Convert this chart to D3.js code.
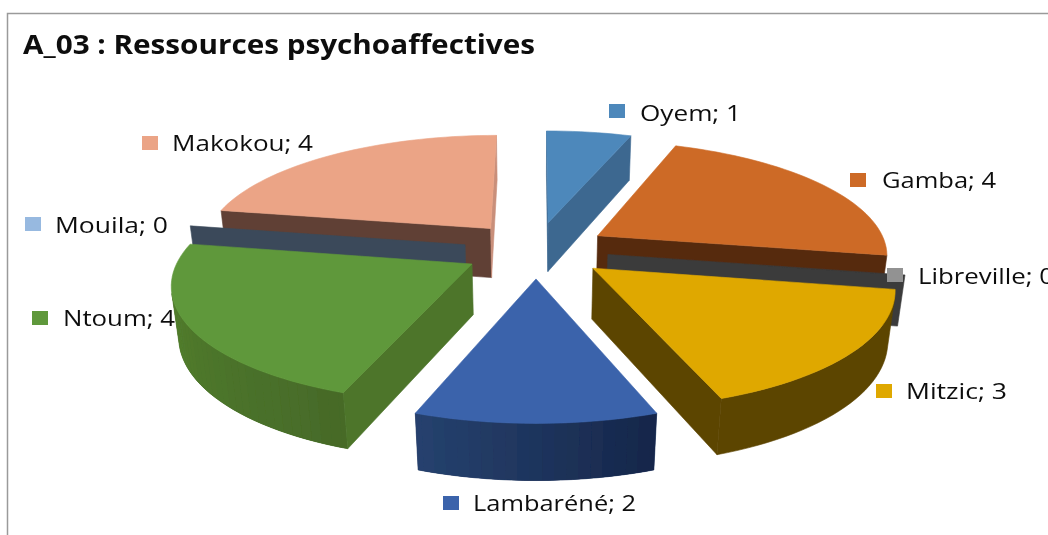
<!DOCTYPE html>
<html><head><meta charset="utf-8">
<script src="https://cdnjs.cloudflare.com/ajax/libs/d3/7.8.5/d3.min.js"></script>
<style>html,body{margin:0;padding:0;background:#fff;overflow:hidden}svg{display:block}</style>
</head><body><svg id="c" width="1048" height="535"></svg>
<script>
const titleText = "A_03 : Ressources psychoaffectives";
const categories = ["Oyem","Gamba","Libreville","Mitzic","Lambaréné","Ntoum","Mouila","Makokou"];
const values = [1,4,0,3,2,4,0,4];
const topColors = ["#4e88bb","#cd6b28","#929292","#dfa800","#3a63ab","#5f983b","#97b9e0","#eba486"];
const startWallColors = ["#3d6890","#562b10","#3a3a3a","#5c4400","#25406f","#4e752c","#3b4a5a","#604035"];
const endWallColors = ["#3d6890","#562b10","#3a3a3a","#5c4400","#1c3158","#4e752c","#3b4a5a","#c98f7a"];
const arcFrom = ["#3d6890","#562b10","#3a3a3a","#5c4400","#16264a","#466a28","#3b4a5a","#604035"];
const arcTo = ["#3d6890","#562b10","#3a3a3a","#5c4400","#26426f","#578630","#3b4a5a","#604035"];
// legend layout: swatch x, swatch y, text x, baseline, text width
const legendSwatchX = [609,850,887,876,443,32,25,142];
const legendSwatchY = [104,173,268,384,496,311,217,136];
const legendTextX = [640,882,918,906,473,63,55,172];
const legendBaseline = [121,188,284,399,511,326,233,151];
const legendTextW = [101,114,136,101,163,112,113,141];

const cx=536, cy=249.6, f=290, a=113, p=0.15, q=0.02, depth=51, explode=0.25;
const svg=d3.select("#c");
const defs=svg.append("defs");
defs.append("filter").attr("id","soft").attr("x","-5%").attr("y","-5%").attr("width","110%").attr("height","110%")
  .append("feGaussianBlur").attr("stdDeviation",0.55);

// frame
svg.append("path").attr("d","M7.5,535V13.5H1048").attr("fill","none").attr("stroke","#9a9a9a").attr("stroke-width",1.5);

function project(X,Y,bottom){
  let w=1/(1+p*Y);
  if(bottom) w=1/(1/w+q);
  return [cx+f*X*w, cy-a*Y*w+(bottom?depth*w:0)];
}
const pie=d3.pie().sort(null).value(d=>d).startAngle(0).endAngle(2*Math.PI);
const arcs=pie(values).map((d,i)=>{
  const mid=(d.startAngle+d.endAngle)/2;
  return {i,start:d.startAngle,end:d.endAngle,mid,ox:explode*Math.sin(mid),oy:explode*Math.cos(mid)};
});
const line=d3.line();
const chart=svg.append("g").attr("filter","url(#soft)");

function poly(pts,color,sw){
  chart.append("path").attr("d",line(pts)+"Z").attr("fill",color).attr("stroke",color).attr("stroke-width",sw===undefined?0.6:sw);
}
arcs.slice().sort((u,v)=>Math.cos(v.mid)-Math.cos(u.mid)).forEach(s=>{
  const T=t=>project(s.ox+Math.sin(t),s.oy+Math.cos(t),false);
  const B=t=>project(s.ox+Math.sin(t),s.oy+Math.cos(t),true);
  const AT=project(s.ox,s.oy,false), AB=project(s.ox,s.oy,true);
  if(s.end-s.start<1e-6){
    poly([AT,T(s.mid),B(s.mid),AB],startWallColors[s.i]);
    return;
  }
  const n=Math.max(6,Math.round((s.end-s.start)*180/Math.PI/2));
  const th=d3.range(n+1).map(k=>s.start+(s.end-s.start)*k/n);
  const col=d3.scaleLinear().domain([s.start,s.end]).range([arcFrom[s.i],arcTo[s.i]]).interpolate(d3.interpolateRgb);
  // outer wall: one solid base, then gradient bands wide enough to overlap with no seam
  const vis=d3.range(n).filter(k=>d3.polygonArea([T(th[k+1]),T(th[k]),B(th[k]),B(th[k+1])])<0);
  if(vis.length){
    const tt=d3.range(vis[0],vis[vis.length-1]+2).map(k=>th[k]);
    poly(tt.map(T).concat(tt.slice().reverse().map(B)),col((tt[0]+tt[tt.length-1])/2));
    if(arcFrom[s.i]!==arcTo[s.i]){
      vis.forEach(k=>{
        poly([T(th[k+1]),T(th[k]),B(th[k]),B(th[k+1])],col((th[k]+th[k+1])/2),0);
      });
      // re-cover seams by redrawing each band shifted half a step
      vis.slice(0,-1).forEach(k=>{
        const m0=(th[k]+th[k+1])/2,m1=(th[k+1]+th[k+2])/2;
        poly([T(m1),T(m0),B(m0),B(m1)],col(th[k+1]),0);
      });
    }
  }
  // radial walls
  const sw=[T(s.start),AT,AB,B(s.start)];
  if(d3.polygonArea(sw)<0) poly(sw,startWallColors[s.i]);
  const ew=[AT,T(s.end),B(s.end),AB];
  if(d3.polygonArea(ew)<0) poly(ew,endWallColors[s.i]);
  // top face
  poly([AT].concat(th.map(T)),topColors[s.i]);
});

const txt=svg.append("g").attr("filter","url(#soft)");
categories.forEach((c,i)=>{
  chart.append("rect").attr("x",legendSwatchX[i]).attr("y",legendSwatchY[i]).attr("width",16).attr("height",14).attr("fill",topColors[i]);
  txt.append("text").attr("x",legendTextX[i]).attr("y",legendBaseline[i])
    .attr("textLength",legendTextW[i]).attr("lengthAdjust","spacingAndGlyphs")
    .attr("font-family","'Open Sans'").attr("font-size",21).attr("fill","#111")
    .text(c+"; "+values[i]);
});
txt.append("text").attr("x",23).attr("y",54).attr("textLength",512).attr("lengthAdjust","spacingAndGlyphs")
  .attr("font-family","'Open Sans'").attr("font-weight",700).attr("font-size",26).attr("fill","#111").text(titleText);
</script></body></html>
